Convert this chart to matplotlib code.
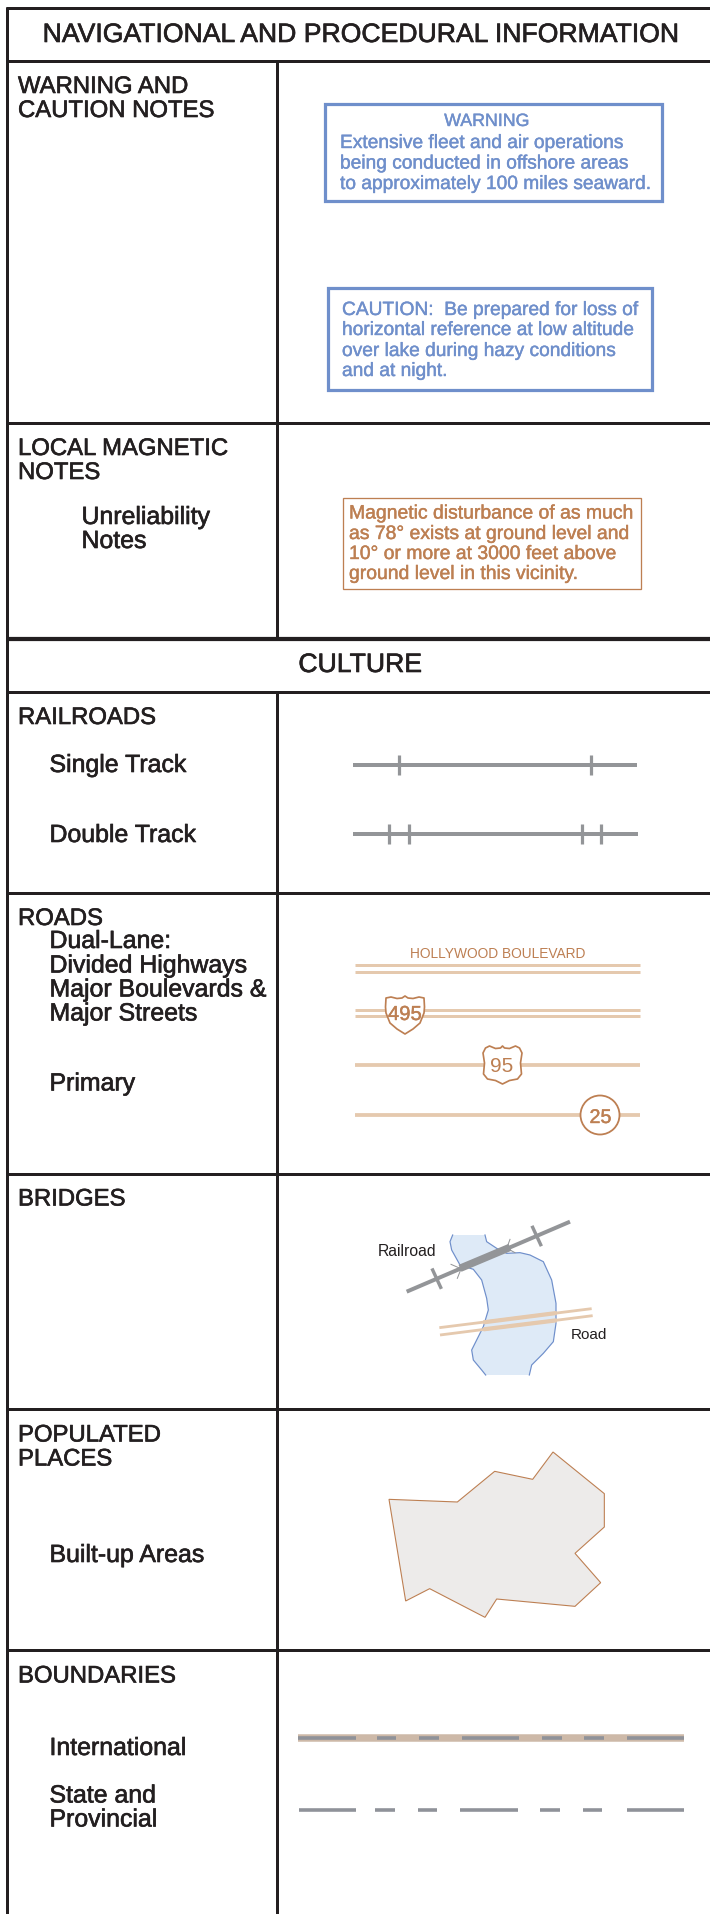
import matplotlib
matplotlib.use("Agg")
import matplotlib.pyplot as plt
import matplotlib.patheffects as pe
from matplotlib.patches import Polygon, Rectangle, Circle

plt.rcParams['font.family'] = ['Liberation Sans', 'DejaVu Sans']
BLACK = '#231f20'; BLUE = '#6f8fcb'; BROWN = '#bd7f52'; TAN = '#e5c9ae'; GRAY = '#939598'

titles = [("NAVIGATIONAL AND PROCEDURAL INFORMATION", 360, 42), ("CULTURE", 360, 672)]
labels = [
    ("WARNING AND", 18, 93), ("CAUTION NOTES", 18, 117),
    ("LOCAL MAGNETIC", 18, 455), ("NOTES", 18, 479),
    ("Unreliability", 81.5, 524), ("Notes", 81.5, 548),
    ("RAILROADS", 18, 724), ("Single Track", 49.5, 772), ("Double Track", 49.5, 842),
    ("ROADS", 18, 925), ("Dual-Lane:", 49.5, 948), ("Divided Highways", 49.5, 972.5),
    ("Major Boulevards &", 49.5, 996.5), ("Major Streets", 49.5, 1020.5), ("Primary", 49.5, 1090.5),
    ("BRIDGES", 18, 1205.5), ("POPULATED", 18, 1441.5), ("PLACES", 18, 1465.5),
    ("Built-up Areas", 49.5, 1562), ("BOUNDARIES", 18, 1682.5), ("International", 49.5, 1755),
    ("State and", 49.5, 1802.5), ("Provincial", 49.5, 1826.5),
]
row_lines = [61, 423, 639, 692, 893.3, 1174, 1409, 1650]
row_widths = [3, 3, 4.2, 3, 3, 3, 3, 3]

warning_lines = [("WARNING", 487, 126, 'center'), ("Extensive fleet and air operations", 340, 148, 'left'),
                 ("being conducted in offshore areas", 340, 168.5, 'left'),
                 ("to approximately 100 miles seaward.", 340, 189, 'left')]
caution_lines = [("CAUTION:  Be prepared for loss of", 342, 315, 'left'),
                 ("horizontal reference at low altitude", 342, 335, 'left'),
                 ("over lake during hazy conditions", 342, 356, 'left'),
                 ("and at night.", 342, 376, 'left')]
magnetic_lines = [("Magnetic disturbance of as much", 349, 518.5, 'left'),
                  ("as 78° exists at ground level and", 349, 539, 'left'),
                  ("10° or more at 3000 feet above", 349, 559, 'left'),
                  ("ground level in this vicinity.", 349, 579, 'left')]

single_ticks = [399, 591]
double_ticks = [389, 409, 582, 601]
road_ys_dual = [965, 972, 1009.5, 1016]
road_ys_single = [1065, 1115]

water_x = [308,300,305,330,370,395,410,415,400,385,365,370,395,407,538,545,580,610,618,618,605,580,540,510,470,440,410,405]
water_y = [75,95,120,165,178,210,265,300,350,380,420,450,480,495,495,465,430,395,340,280,210,155,135,128,130,115,95,75]
city_x = [87,292,404,518,579,733,733,645,722,645,410,375,209,137]
city_y = [208,216,124,148,66,191,291,370,458,529,507,562,476,513]

intl_dashes = [(55,229),(291,349),(417,476),(545,718),(786,845),(913,972),(1040,1213)]
state_dashes = [(57,229),(286,345),(413,471),(540,713),(781,840),(908,966),(1040,1213)]

fig = plt.figure(figsize=(7.10, 19.14), dpi=100)
ax = fig.add_axes([0, 0, 1, 1])
ax.set_xlim(0, 710); ax.set_ylim(1914, 0); ax.axis('off')
PX = 72 / 100

def bold(c, w):
    return [pe.withStroke(linewidth=w, foreground=c)]

def hline(y, x0, x1, c=BLACK, w=2, z=2, cap='butt'):
    ax.plot([x0, x1], [y, y], color=c, lw=w * PX, zorder=z, solid_capstyle=cap)

# frame
ax.plot([5.5, 710], [8, 8], color=BLACK, lw=3 * PX, solid_capstyle='butt')
ax.plot([7, 7], [7, 1914], color=BLACK, lw=3 * PX, solid_capstyle='butt')
for y, w in zip(row_lines, row_widths):
    hline(y, 5.5, 710, w=w)
ax.plot([276.5, 276.5], [61, 639], color=BLACK, lw=3 * PX, solid_capstyle='butt')
ax.plot([276.5, 276.5], [692, 1914], color=BLACK, lw=3 * PX, solid_capstyle='butt')

for t, x, y in titles:
    ax.text(x, y, t, fontsize=19.15, color=BLACK, ha='center', va='baseline', path_effects=bold(BLACK, 0.45))
for t, x, y in labels:
    ax.text(x, y, t, fontsize=17.2 if t.isupper() else 17.9, color=BLACK, ha='left', va='baseline',
            path_effects=bold(BLACK, 0.45))

# note boxes
ax.add_patch(Rectangle((325, 104), 337, 97, fill=False, ec=BLUE, lw=3.2 * PX))
ax.add_patch(Rectangle((328, 288), 324, 102, fill=False, ec=BLUE, lw=3.2 * PX))
ax.add_patch(Rectangle((343, 498), 298, 91, fill=False, ec=BROWN, lw=1.3 * PX))
for t, x, y, ha in warning_lines + caution_lines:
    ax.text(x, y, t, fontsize=12.8 if t == "WARNING" else 13.8, color=BLUE, ha=ha, va='baseline',
            path_effects=bold(BLUE, 0.3))
for t, x, y, ha in magnetic_lines:
    ax.text(x, y, t, fontsize=13.95, color=BROWN, ha=ha, va='baseline', path_effects=bold(BROWN, 0.3))

# railroads
hline(765, 353, 637, GRAY, 4)
hline(834, 353, 638, GRAY, 4)
for x in single_ticks:
    ax.plot([x, x], [755, 775], color=GRAY, lw=3.2 * PX, solid_capstyle='butt')
for x in double_ticks:
    ax.plot([x, x], [824, 844], color=GRAY, lw=3.2 * PX, solid_capstyle='butt')

# roads
for y in road_ys_dual:
    hline(y, 355, 640, TAN, 3)
for y in road_ys_single:
    hline(y, 355, 640, TAN, 3.8)
ax.text(498, 957.5, "HOLLYWOOD BOULEVARD", fontsize=9.95, color=BROWN, ha='center', va='baseline')

shield_x = [-19, -14, -8, -3, 0, 3, 8, 14, 19, 19.5, 19, 15, 8, 0, -8, -15, -19, -19.5]
shield_y = [-17, -18, -16.5, -17, -19, -17, -16.5, -18, -17, -8, -2, 8, 14, 19, 14, 8, -2, -8]
ax.add_patch(Polygon([(405 + a, 1015 + b) for a, b in zip(shield_x, shield_y)], closed=True,
                     fc='white', ec=BROWN, lw=1.7 * PX, zorder=5, joinstyle='round'))
ax.text(405, 1020, "495", fontsize=14.6, color=BROWN, ha='center', va='baseline', zorder=6,
        path_effects=bold(BROWN, 0.3))

us_x = [-17, -13, -7, -2, 0, 2, 7, 13, 17, 19.5, 18, 19, 15, 7, 0, -7, -15, -19, -18, -19.5]
us_y = [-17, -19, -16.5, -17, -19, -17, -16.5, -19, -17, -12, -2, 9, 14, 15.5, 19, 15.5, 14, 9, -2, -12]
ax.add_patch(Polygon([(502.5 + a, 1065 + b) for a, b in zip(us_x, us_y)], closed=True,
                     fc='white', ec=BROWN, lw=1.7 * PX, zorder=5, joinstyle='round'))
ax.text(502, 1071.5, "95", fontsize=15, color=BROWN, ha='center', va='baseline', zorder=6,
        family=['Liberation Sans Narrow', 'Liberation Sans'])
ax.add_patch(Circle((600, 1115), 19.5, fc='white', ec=BROWN, lw=1.8 * PX, zorder=5))
ax.text(600.5, 1123, "25", fontsize=14.2, color=BROWN, ha='center', va='baseline', zorder=6,
        path_effects=bold(BROWN, 0.3))

# bridges
bx = lambda v: 350 + v / 3
by = lambda v: 1210 + v / 3
ax.add_patch(Polygon([(bx(a), by(b)) for a, b in zip(water_x, water_y)], closed=True,
                     fc='#deeaf7', ec='none', zorder=2))
ax.plot([bx(a) for a in water_x[:14]], [by(b) for b in water_y[:14]], color=BLUE, lw=1.2 * PX, zorder=3)
ax.plot([bx(a) for a in water_x[14:]], [by(b) for b in water_y[14:]], color=BLUE, lw=1.2 * PX, zorder=3)
ax.plot([bx(170), bx(660)], [by(245), by(35)], color=GRAY, lw=4 * PX, zorder=4, solid_capstyle='butt')
ax.plot([bx(330), bx(480)], [by(175), by(112)], color=GRAY, lw=7.5 * PX, zorder=4, solid_capstyle='butt')
for a, b, c, d in [(248, 180, 272, 232), (548, 52, 572, 104), (303, 163, 335, 177), (322, 205, 335, 172),
                   (480, 88, 470, 115), (465, 112, 495, 128)]:
    ax.plot([bx(a), bx(c)], [by(b), by(d)], color=GRAY, lw=(3.4 if a in (248, 548) else 1.0) * PX, zorder=4)
for a, b, c, d in [(268, 353, 725, 296), (270, 375, 728, 317)]:
    ax.plot([bx(a), bx(c)], [by(b), by(d)], color=TAN, lw=2.8 * PX, zorder=4, solid_capstyle='butt')
for a, b, c, d in [(400, 337, 620, 309), (400, 358, 620, 331)]:
    ax.plot([bx(a), bx(c)], [by(b), by(d)], color=TAN, lw=4.2 * PX, zorder=4, solid_capstyle='butt')
ax.text(bx(83), by(138), "Railroad", fontsize=11.3, color=BLACK, va='baseline')
ax.text(bx(663), by(388), "Road", fontsize=11, color=BLACK, va='baseline')

# built-up
ax.add_patch(Polygon([(360 + a / 3, 1430 + b / 3) for a, b in zip(city_x, city_y)], closed=True,
                     fc='#edebea', ec=BROWN, lw=1.1 * PX, zorder=2))

# boundaries
hline(1738.3, 280 + 55 / 3, 280 + 1213 / 3, '#cdb9a8', 7.5)
for a, b in intl_dashes:
    hline(1738.3, 280 + a / 3, 280 + b / 3, '#8f9299', 3.6, z=3)
for a, b in state_dashes:
    hline(1810, 280 + a / 3, 280 + b / 3, '#8f9299', 3.6, z=3)

fig.savefig('out.png', dpi=100, facecolor='white')
